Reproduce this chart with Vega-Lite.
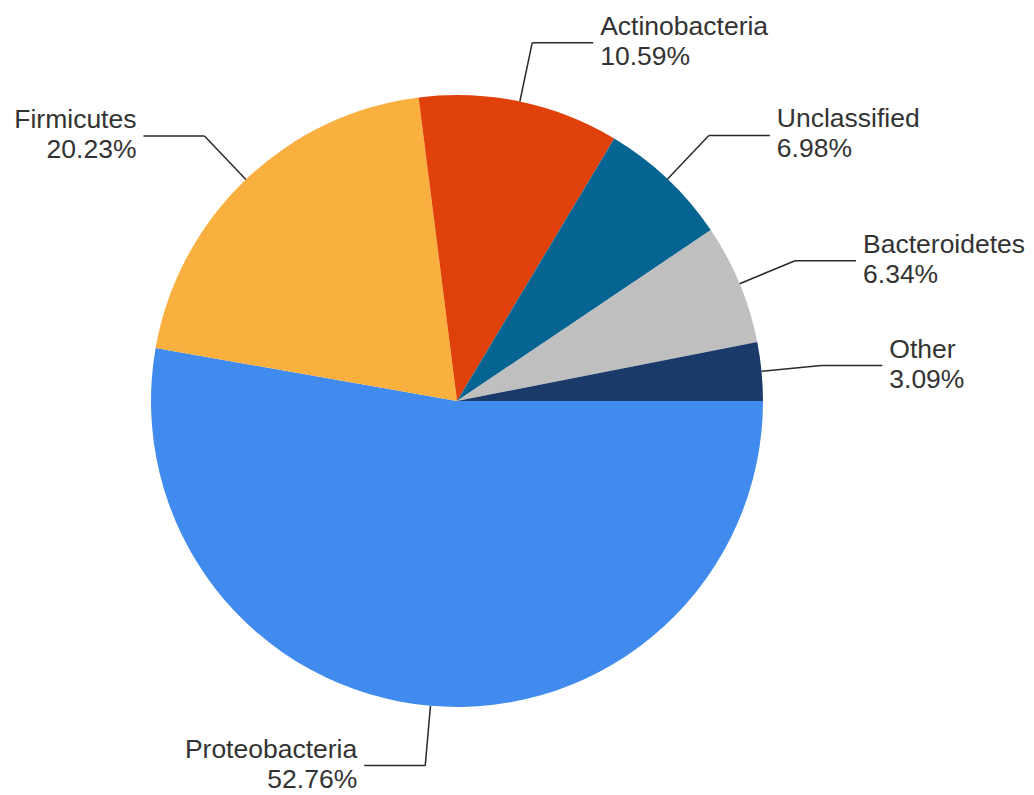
{
  "$schema": "https://vega.github.io/schema/vega-lite/v6.json",
  "autosize": "none",
  "width": 788,
  "height": 788,
  "padding": {"left": 63, "top": 7, "right": 183, "bottom": 0},
  "background": "white",
  "config": {"view": {"stroke": null}},
  "data": {
    "values": [
      {"name": "Proteobacteria", "value": 52.76, "ord": 1},
      {"name": "Firmicutes", "value": 20.23, "ord": 2},
      {"name": "Actinobacteria", "value": 10.59, "ord": 3},
      {"name": "Unclassified", "value": 6.98, "ord": 4},
      {"name": "Bacteroidetes", "value": 6.34, "ord": 5},
      {"name": "Other", "value": 3.09, "ord": 6}
    ]
  },
  "transform": [
    {"joinaggregate": [{"op": "sum", "field": "value", "as": "total"}]},
    {"window": [{"op": "sum", "field": "value", "as": "cum"}], "sort": [{"field": "ord"}], "frame": [null, 0]},
    {"calculate": "PI/2 + 2*PI*(datum.cum - datum.value/2)/datum.total", "as": "a"},
    {"calculate": "306*sin(datum.a)", "as": "x0"},
    {"calculate": "306*cos(datum.a)", "as": "y0"},
    {"calculate": "366*sin(datum.a)", "as": "x1"},
    {"calculate": "366*cos(datum.a)", "as": "y1"},
    {"calculate": "datum.x1 + (datum.x1 >= 0 ? 61 : -61)", "as": "x2"},
    {"calculate": "datum.x2 + (datum.x1 >= 0 ? 7 : -7)", "as": "xt"},
    {"calculate": "datum.name + '\\n' + format(datum.value, '.2f') + '%'", "as": "label"}
  ],
  "layer": [
    {
      "mark": {"type": "arc", "radius": 306, "stroke": null},
      "encoding": {
        "theta": {"field": "value", "type": "quantitative", "stack": true, "scale": {"range": [1.5707963268, 7.8539816340]}},
        "order": {"field": "ord", "type": "quantitative"},
        "color": {
          "field": "name", "type": "nominal", "legend": null,
          "scale": {
            "domain": ["Proteobacteria", "Firmicutes", "Actinobacteria", "Unclassified", "Bacteroidetes", "Other"],
            "range": ["#428BEE", "#F9B03F", "#E0400A", "#056492", "#BFBFBF", "#1A3B69"]
          }
        }
      }
    },
    {
      "mark": {"type": "rule", "color": "#2a2a2a", "strokeWidth": 1.5},
      "encoding": {
        "x": {"field": "x0", "type": "quantitative", "axis": null, "scale": {"domain": [-394, 394]}},
        "y": {"field": "y0", "type": "quantitative", "axis": null, "scale": {"domain": [-394, 394]}},
        "x2": {"field": "x1"},
        "y2": {"field": "y1"}
      }
    },
    {
      "mark": {"type": "rule", "color": "#2a2a2a", "strokeWidth": 1.5},
      "encoding": {
        "x": {"field": "x1", "type": "quantitative", "axis": null, "scale": {"domain": [-394, 394]}},
        "y": {"field": "y1", "type": "quantitative", "axis": null, "scale": {"domain": [-394, 394]}},
        "x2": {"field": "x2"}
      }
    },
    {
      "transform": [{"filter": "datum.x1 >= 0"}],
      "mark": {"type": "text", "align": "left", "baseline": "alphabetic", "dy": -8, "lineBreak": "\n", "lineHeight": 30, "font": "Liberation Sans", "fontSize": 26.5, "color": "#333333"},
      "encoding": {
        "x": {"field": "xt", "type": "quantitative", "axis": null, "scale": {"domain": [-394, 394]}},
        "y": {"field": "y1", "type": "quantitative", "axis": null, "scale": {"domain": [-394, 394]}},
        "text": {"field": "label"}
      }
    },
    {
      "transform": [{"filter": "datum.x1 < 0"}],
      "mark": {"type": "text", "align": "right", "baseline": "alphabetic", "dy": -8, "lineBreak": "\n", "lineHeight": 30, "font": "Liberation Sans", "fontSize": 26.5, "color": "#333333"},
      "encoding": {
        "x": {"field": "xt", "type": "quantitative", "axis": null, "scale": {"domain": [-394, 394]}},
        "y": {"field": "y1", "type": "quantitative", "axis": null, "scale": {"domain": [-394, 394]}},
        "text": {"field": "label"}
      }
    }
  ]
}
